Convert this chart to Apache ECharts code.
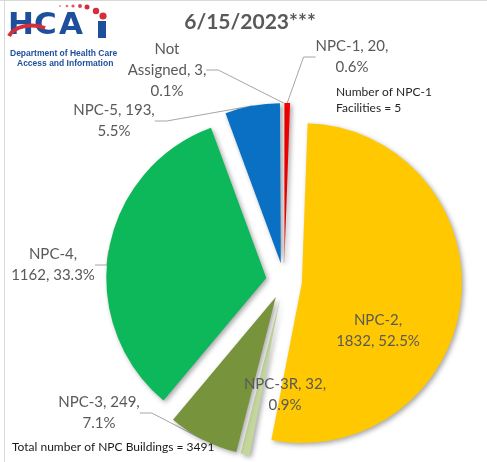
<!DOCTYPE html>
<html>
<head>
<meta charset="utf-8">
<script src="https://cdn.jsdelivr.net/npm/echarts@6/dist/echarts.min.js"></script>
<style>
  html, body { margin: 0; padding: 0; background: #fff; }
  #chart { width: 487px; height: 462px; }
</style>
</head>
<body>
<div id="chart"></div>
<script>
// NPC building counts, clockwise from 12 o'clock
var categories = ['NPC-1', 'NPC-2', 'NPC-3R', 'NPC-3', 'NPC-4', 'NPC-5', 'Not Assigned'];
var buildings = [20, 1832, 32, 249, 1162, 193, 3];
var colors = ['#ff0000', '#ffc800', '#c3d69b', '#77933c', '#0cb85a', '#0a70c4', '#ffffff'];
var npc1Facilities = 5;
var totalBuildings = 3491;
var titleText = '6/15/2023***';

var FONT = 'Lato, "Noto Sans", sans-serif';
var CX = 284, CY = 281, R = 160, EXPLODE = 18;

// where each label sits (Excel placed them by hand)
var labelSpots = [
  [352, 57], [378, 331], [285, 395], [99, 413], [53, 265], [114, 121], [167, 70]
];

function labelText(i, p) {
  var n = categories[i], v = buildings[i], d = p.percent.toFixed(1) + '%';
  switch (n) {
    case 'NPC-2': return n + ',\n' + v + ', ' + d;
    case 'NPC-4': return n + ',\n' + v + ', ' + d;
    case 'Not Assigned': return 'Not\nAssigned, ' + v + ',\n' + d;
    default: return n + ', ' + v + ',\n' + d;
  }
}

var total = buildings.reduce(function (a, b) { return a + b; }, 0);
var shadow = { shadowBlur: 5, shadowOffsetX: 2, shadowOffsetY: 2, shadowColor: 'rgba(0,0,0,0.35)' };

// one series per slice, so each slice can be pulled out on its own
var series = [];
var acc = 0;
categories.forEach(function (name, k) {
  var mid = (acc + buildings[k] / 2) / total * Math.PI * 2;
  acc += buildings[k];
  var inside = name === 'NPC-2' || name === 'NPC-3R';
  series.push({
    type: 'pie',
    center: [CX + EXPLODE * Math.sin(mid), CY - EXPLODE * Math.cos(mid)],
    radius: R,
    startAngle: 90,
    clockwise: true,
    percentPrecision: 1,
    avoidLabelOverlap: false,
    silent: true,
    emphasis: { disabled: true },
    label: {
      formatter: function (p) { return labelText(p.dataIndex, p); },
      fontFamily: FONT,
      fontSize: 15,
      lineHeight: 21,
      color: '#595959',
      align: 'center'
    },
    labelLine: {
      length: 12,
      length2: 12,
      lineStyle: { color: '#a6a6a6', width: 1 }
    },
    labelLayout: function (p) {
      var s = labelSpots[p.dataIndex];
      return { x: s[0], y: s[1], align: 'center', verticalAlign: 'middle' };
    },
    data: categories.map(function (n, i) {
      var on = i === k;
      return {
        name: n,
        value: buildings[i],
        itemStyle: on ? Object.assign({
          color: colors[i],
          borderColor: n === 'Not Assigned' ? '#d0d0d0' : 'rgba(0,0,0,0)',
          borderWidth: n === 'Not Assigned' ? 0.5 : 0
        }, shadow) : { color: 'rgba(0,0,0,0)', shadowColor: 'rgba(0,0,0,0)' },
        label: { show: on, position: inside ? 'inside' : 'outside' },
        labelLine: { show: on && !inside }
      };
    })
  });
});

var chart = echarts.init(document.getElementById('chart'));

var logoFont = 'bold 31px "DejaVu Sans", sans-serif';
var smallLogo = 'bold 8.5px "Liberation Sans", Arial, sans-serif';

var option = {
  backgroundColor: '#ffffff',
  animation: false,
  graphic: [
    { type: 'line', shape: { x1: 0, y1: 0.5, x2: 487, y2: 0.5 }, style: { stroke: '#d9d9d9', lineWidth: 1 } },
    { type: 'line', shape: { x1: 4.5, y1: 0, x2: 4.5, y2: 462 }, style: { stroke: '#d9d9d9', lineWidth: 1 } },
    // HCAi logo
    { type: 'text', x: 8, y: 10, style: { text: 'H', font: logoFont, fill: '#1d4f9c' } },
    { type: 'text', x: 34, y: 10, style: { text: 'C', font: logoFont, fill: '#1d4f9c' } },
    { type: 'text', x: 59, y: 10, style: { text: 'A', font: logoFont, fill: '#1d4f9c' } },
    { type: 'rect', shape: { x: 98, y: 21, width: 8, height: 17 }, style: { fill: '#1d4f9c' } },
    { type: 'bezierCurve', shape: { x1: 9, y1: 36, x2: 45, y2: 28, cpx1: 14, cpy1: 26, cpx2: 32, cpy2: 23 }, style: { stroke: '#d42e3a', lineWidth: 4, fill: null } },
    { type: 'circle', shape: { cx: 60, cy: 6, r: 1 }, style: { fill: '#e88a92' } },
    { type: 'circle', shape: { cx: 67, cy: 6, r: 1.3 }, style: { fill: '#e36f79' } },
    { type: 'circle', shape: { cx: 73, cy: 6, r: 1.6 }, style: { fill: '#dd5964' } },
    { type: 'circle', shape: { cx: 80, cy: 6, r: 2 }, style: { fill: '#d84450' } },
    { type: 'circle', shape: { cx: 87, cy: 7, r: 2.5 }, style: { fill: '#d42e3a' } },
    { type: 'circle', shape: { cx: 96, cy: 11, r: 3.2 }, style: { fill: '#d42e3a' } },
    { type: 'circle', shape: { cx: 103, cy: 16, r: 3.6 }, style: { fill: '#d42e3a' } },
    { type: 'text', x: 10, y: 49, style: { text: 'Department of Health Care', font: smallLogo, fill: '#1d4f9c' } },
    { type: 'text', x: 17, y: 59, style: { text: 'Access and Information', font: smallLogo, fill: '#1d4f9c' } },
    // notes
    { type: 'text', x: 336, y: 84, style: { text: 'Number of NPC-1\nFacilities = ' + npc1Facilities, font: '12px ' + FONT, fill: '#262626', lineHeight: 16 } },
    { type: 'text', x: 12, y: 441, style: { text: 'Total number of NPC Buildings = ' + totalBuildings, font: '12px ' + FONT, fill: '#1a1a1a' } }
  ],
  title: {
    text: titleText,
    left: 245,
    textAlign: 'center',
    top: 7,
    textStyle: { fontFamily: FONT, fontSize: 21, fontWeight: 'bold', color: '#595959' }
  },
  series: series
};

chart.setOption(option);
</script>
</body>
</html>
